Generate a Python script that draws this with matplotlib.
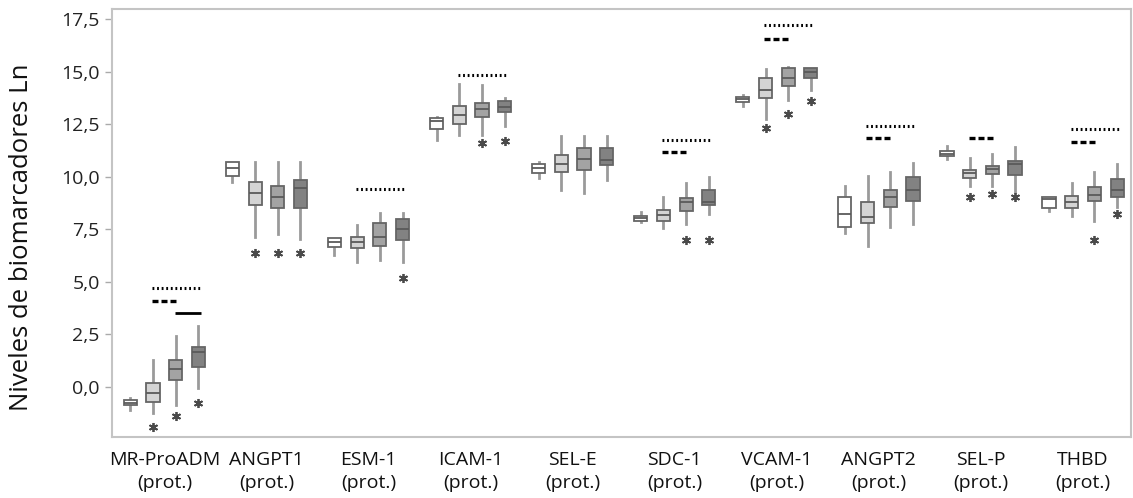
import matplotlib
matplotlib.use("Agg")
from matplotlib import pyplot as plt
from matplotlib.ticker import FuncFormatter

plt.rcParams['font.family'] = ['Open Sans', 'DejaVu Sans']

# biomarker groups, 4 boxes each
categories = ["MR-ProADM", "ANGPT1", "ESM-1", "ICAM-1", "SEL-E",
              "SDC-1", "VCAM-1", "ANGPT2", "SEL-P", "THBD"]

# per group: 4 boxes (lower whisker, q1, median, q3, upper whisker)
whislo = [[-1.11, -1.27, -0.87, -0.08], [9.73, 7.11, 7.26, 7.03], [6.27, 5.95, 6.03, 5.95],
          [11.74, 11.99, 11.99, 12.43], [9.92, 9.37, 9.24, 9.84], [7.85, 7.54, 7.75, 8.21],
          [13.38, 12.75, 13.65, 14.13], [7.30, 6.71, 7.62, 7.75], [10.83, 9.57, 9.57, 9.29],
          [8.38, 8.13, 7.89, 8.57]]
q1 = [[-0.87, -0.74, 0.32, 0.92], [10.05, 8.65, 8.52, 8.52], [6.67, 6.62, 6.71, 6.99],
      [12.30, 12.54, 12.83, 13.10], [10.16, 10.21, 10.32, 10.56], [7.89, 7.89, 8.37, 8.65],
      [13.57, 13.76, 14.33, 14.71], [7.62, 7.81, 8.54, 8.84], [11.00, 9.92, 10.13, 10.08],
      [8.50, 8.52, 8.84, 9.05]]
med = [[-0.76, -0.29, 0.86, 1.64], [10.43, 9.24, 9.05, 9.45], [6.90, 6.88, 7.14, 7.50],
       [12.65, 12.97, 13.21, 13.33], [10.40, 10.60, 10.83, 10.80], [8.02, 8.18, 8.81, 8.81],
       [13.70, 14.16, 14.73, 15.00], [8.21, 8.10, 9.05, 9.37], [11.11, 10.16, 10.35, 10.59],
       [8.95, 8.81, 9.13, 9.37]]
q3 = [[-0.63, 0.16, 1.27, 1.90], [10.71, 9.76, 9.57, 9.84], [7.10, 7.14, 7.78, 7.97],
      [12.78, 13.38, 13.52, 13.60], [10.60, 11.03, 11.35, 11.35], [8.14, 8.41, 8.97, 9.37],
      [13.81, 14.73, 15.19, 15.19], [9.02, 8.81, 9.37, 9.97], [11.22, 10.32, 10.52, 10.76],
      [9.05, 9.08, 9.50, 9.89]]
whishi = [[-0.52, 1.27, 2.41, 2.89], [10.71, 10.71, 10.71, 10.71], [7.10, 7.70, 8.26, 8.26],
          [12.86, 14.41, 14.37, 13.76], [10.69, 11.94, 11.94, 11.94], [8.33, 9.05, 9.71, 10.00],
          [13.89, 15.13, 15.24, 15.19], [9.57, 10.03, 10.21, 10.67], [11.48, 10.92, 11.07, 11.43],
          [9.05, 9.69, 10.21, 10.60]]

# asterisks: (group, box, value)
stars = [(0, 1, -1.90), (0, 2, -1.38), (0, 3, -0.76),
         (1, 1, 6.35), (1, 2, 6.35), (1, 3, 6.35),
         (2, 3, 5.16),
         (3, 2, 11.62), (3, 3, 11.71),
         (5, 2, 6.99), (5, 3, 6.99),
         (6, 1, 12.35), (6, 2, 12.99), (6, 3, 13.60),
         (8, 1, 9.02), (8, 2, 9.16), (8, 3, 9.05),
         (9, 2, 6.99), (9, 3, 8.22)]

# comparison bars: (group, from box, to box, level, kind)
bars = [(0, 1, 3, 4.71, "dot"), (0, 1, 2, 4.10, "dash"), (0, 2, 3, 3.50, "solid"),
        (2, 1, 3, 9.40, "dot"),
        (3, 1, 3, 14.84, "dot"),
        (5, 1, 3, 11.75, "dot"), (5, 1, 2, 11.19, "dash"),
        (6, 1, 3, 17.22, "dot"), (6, 1, 2, 16.59, "dash"),
        (7, 1, 3, 12.41, "dot"), (7, 1, 2, 11.86, "dash"),
        (8, 1, 2, 11.83, "dash"),
        (9, 1, 3, 12.26, "dot"), (9, 1, 2, 11.67, "dash")]

box_colors = ["#ffffff", "#d4d4d4", "#a3a3a3", "#828282"]
group_step = 4.5


def pos(g, b):
    return g * group_step + b


fig = plt.figure(figsize=(11.33, 4.98), dpi=100)
ax = fig.add_axes([0.099, 0.1225, 0.899, 0.8595])

stats, positions, colors = [], [], []
for g in range(len(categories)):
    for b in range(4):
        stats.append(dict(med=med[g][b], q1=q1[g][b], q3=q3[g][b],
                          whislo=whislo[g][b], whishi=whishi[g][b], fliers=[]))
        positions.append(pos(g, b))
        colors.append(box_colors[b])

art = ax.bxp(stats, positions=positions, widths=0.58, patch_artist=True,
             showcaps=False, showfliers=False,
             boxprops=dict(edgecolor="#666666", linewidth=1.3),
             whiskerprops=dict(color="#9a9a9a", linewidth=2),
             medianprops=dict(color="#5a5a5a", linewidth=1.3))
for patch, c in zip(art["boxes"], colors):
    patch.set_facecolor(c)
    patch.set_zorder(3)
for m in art["medians"]:
    m.set_zorder(4)

for g, b, v in stars:
    ax.plot(pos(g, b), v, marker=(6, 2, 0), markersize=6.5, mew=1.3,
            color="#4a4a4a", linestyle="none")

styles = {"dot": dict(linestyle=(0, (0.6, 0.9)), linewidth=2.2),
          "dash": dict(linestyle=(0, (1.8, 0.9)), linewidth=2.4),
          "solid": dict(linestyle="-", linewidth=2.0)}
for g, b0, b1, y, kind in bars:
    ax.plot([pos(g, b0) - 0.05, pos(g, b1) + 0.1], [y, y], color="black",
            solid_capstyle="butt", dash_capstyle="butt", **styles[kind])

ax.set_xlim(-0.8, 44.1)
ax.set_ylim(-2.4, 18.0)
ax.set_yticks([0, 2.5, 5, 7.5, 10, 12.5, 15, 17.5])
ax.yaxis.set_major_formatter(FuncFormatter(lambda v, p: f"{v:.1f}".replace(".", ",")))
ax.set_xticks([pos(g, 1.5) for g in range(len(categories))])
ax.set_xticklabels([c + "\n(prot.)" for c in categories], linespacing=1.35)

ax.tick_params(axis="y", length=5, width=1, color="#aaaaaa", labelsize=14,
               labelcolor="#222222", pad=4)
ax.tick_params(axis="x", length=0, labelsize=14, labelcolor="#111111", pad=10)
for s in ax.spines.values():
    s.set_color("#c4c4c4")
    s.set_linewidth(1.5)

ax.set_ylabel("Niveles de biomarcadores Ln", fontsize=18.5, color="#111111")
ax.yaxis.set_label_coords(-0.077, 0.467)

fig.savefig("out.png", dpi=100)
